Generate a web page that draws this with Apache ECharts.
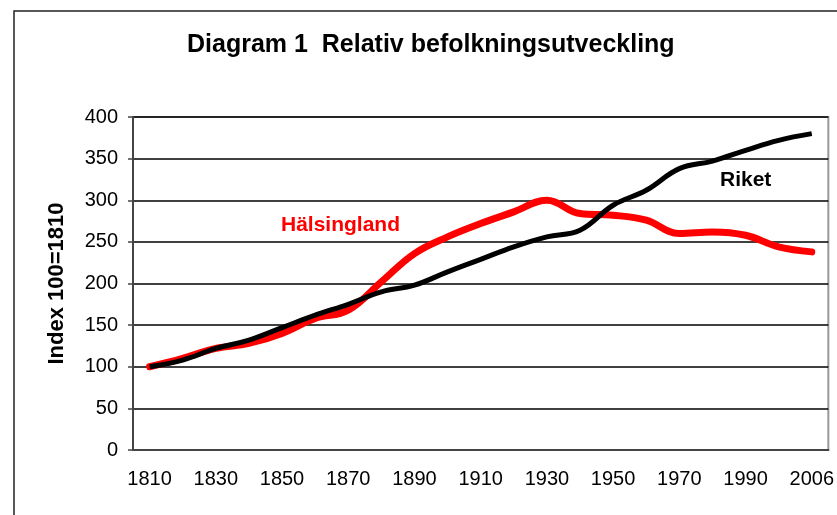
<!DOCTYPE html>
<html>
<head>
<meta charset="utf-8">
<script src="https://cdn.jsdelivr.net/npm/echarts@6/dist/echarts.min.js"></script>
<style>
  html, body { margin: 0; padding: 0; background: #fff; }
  #chart { width: 837px; height: 515px; }
</style>
</head>
<body>
<div id="chart"></div>
<script>
// years on the category axis (2006 is the last point)
const years = ['1810', '1820', '1830', '1840', '1850', '1860', '1870', '1880', '1890', '1900',
  '1910', '1920', '1930', '1940', '1950', '1960', '1970', '1980', '1990', '2000', '2006']

// index 100 = 1810
const halsingland = [100, 110, 122, 128, 140, 158, 168, 202, 236, 256,
  272, 286, 300, 284, 282, 276, 260, 262, 258, 244, 238]
const riket = [100, 108, 122, 132, 147, 162, 175, 190, 198, 214,
  229, 244, 256, 264, 294, 312, 338, 347, 360, 372, 380]

const yTicks = { min: 0, max: 400, interval: 50 }

const chart = echarts.init(document.getElementById('chart'), null, { renderer: 'canvas' })
const font = 'Liberation Sans, Arial, sans-serif'

const option = {
  backgroundColor: '#fff',
  animation: false,
  title: {
    text: 'Diagram 1  Relativ befolkningsutveckling',
    left: 182,
    top: 28,
    textStyle: { fontFamily: font, fontSize: 25, fontWeight: 'bold', color: '#000' },
  },
  graphic: [
    {
      type: 'rect',
      shape: { x: 14, y: 11, width: 900, height: 600 },
      style: { fill: 'none', stroke: '#222', lineWidth: 1.5 },
      silent: true,
      z: -1,
    },
    {
      type: 'text',
      left: 281,
      top: 215,
      style: { text: 'Hälsingland', fill: '#ff0000', font: 'bold 21px ' + font },
    },
    {
      type: 'text',
      left: 720,
      top: 170,
      style: { text: 'Riket', fill: '#000', font: 'bold 21px ' + font },
    },
  ],
  grid: {
    left: 133,
    right: 8,
    top: 117,
    bottom: 65,
    show: true,
    borderColor: '#999',
    borderWidth: 2,
  },
  xAxis: {
    type: 'category',
    data: years,
    boundaryGap: true,
    axisLine: { lineStyle: { color: '#444', width: 2 } },
    axisTick: { interval: 0, length: 5, lineStyle: { color: '#444', width: 1.5 } },
    axisLabel: {
      interval: 1,
      margin: 19,
      color: '#000',
      fontFamily: font,
      fontSize: 20,
    },
    splitLine: { show: false },
  },
  yAxis: {
    type: 'value',
    min: yTicks.min,
    max: yTicks.max,
    interval: yTicks.interval,
    name: 'Index 100=1810',
    nameLocation: 'middle',
    nameGap: 65,
    nameTextStyle: { fontFamily: font, fontSize: 22, fontWeight: 'bold', color: '#000' },
    axisLine: { show: true, lineStyle: { color: '#444', width: 2 } },
    axisTick: { show: true, length: 5, lineStyle: { color: '#444', width: 1.5 } },
    axisLabel: { margin: 15, color: '#000', fontFamily: font, fontSize: 20 },
    splitLine: { show: true, lineStyle: { color: '#000', width: 1.5 } },
  },
  series: [
    {
      name: 'Hälsingland',
      type: 'line',
      data: halsingland,
      smooth: 0.4,
      symbol: 'none',
      lineStyle: { color: '#ff0000', width: 7, cap: 'round' },
      z: 2,
    },
    {
      name: 'Riket',
      type: 'line',
      data: riket,
      smooth: 0.4,
      symbol: 'none',
      lineStyle: { color: '#000', width: 5 },
      z: 3,
    },
  ],
}

chart.setOption(option)
</script>
</body>
</html>
